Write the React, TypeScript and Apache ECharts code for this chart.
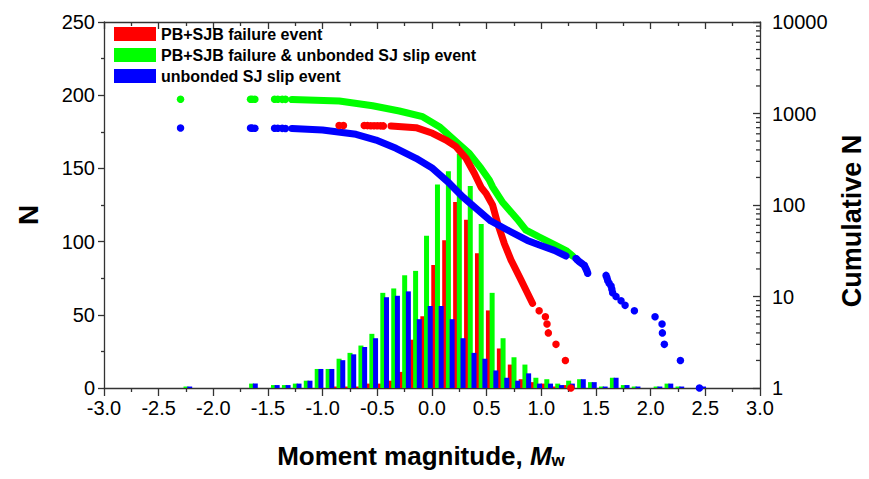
import React, { useEffect, useRef } from "react";
import * as echarts from "echarts";

// ---------- data ----------
const binCenters = [
  -2.25, -1.65, -1.45, -1.35, -1.25, -1.15, -1.05, -0.95, -0.85, -0.75,
  -0.65, -0.55, -0.45, -0.35, -0.25, -0.15, -0.05, 0.05, 0.15, 0.25,
  0.35, 0.45, 0.55, 0.65, 0.75, 0.85, 0.95, 1.05, 1.15, 1.25,
  1.35, 1.45, 1.55, 1.65, 1.75, 1.85, 2.05, 2.15, 2.25, 2.45,
];
const redCounts = [
  0, 0, 0, 0, 0, 0, 0, 0, 1, 1,
  1, 3, 3, 5, 11, 33, 49, 84, 101, 127,
  115, 92, 53, 27, 16, 6, 4, 3, 1, 2,
  0, 0, 0, 0, 0, 0, 0, 0, 0, 0,
];
const greenCounts = [
  1, 3, 2, 2, 3, 5, 13, 13, 20, 24,
  29, 37, 65, 68, 77, 80, 104, 139, 148, 160,
  138, 112, 65, 34, 21, 16, 7, 6, 3, 5,
  6, 4, 1, 7, 2, 1, 1, 3, 1, 1,
];
const blueCounts = [
  1, 3, 2, 2, 3, 5, 13, 13, 19, 23,
  28, 34, 62, 63, 66, 47, 56, 56, 47, 34,
  24, 20, 12, 7, 5, 10, 3, 3, 2, 3,
  6, 4, 1, 7, 2, 1, 1, 3, 1, 1,
];

// cumulative number (M, N >= M)
const greenCumDots = [
  [-2.3, 1434], [-1.66, 1433], [-1.645, 1432], [-1.62, 1431],
  [-1.44, 1430], [-1.41, 1429], [-1.37, 1428], [-1.34, 1427],
];
const greenCumBand = [
  [-1.28, 1420], [-0.848, 1371], [-0.543, 1217], [-0.299, 1065], [-0.086, 923],
  [0.067, 717], [0.22, 492], [0.341, 367], [0.448, 252], [0.524, 188],
  [0.554, 158], [0.643, 108], [0.78, 70], [0.86, 53], [0.982, 44.7],
  [1.119, 37], [1.226, 31.8], [1.286, 27.7],
];
const redCumDots = [
  [-0.85, 740], [-0.81, 739], [-0.62, 738], [-0.59, 737], [-0.56, 736],
  [-0.53, 735], [-0.5, 734], [-0.47, 733], [-0.445, 732],
  [0.98, 7], [1.037, 6], [1.052, 5], [1.064, 4], [1.134, 3], [1.22, 2], [1.27, 1],
];
const redCumBand = [
  [-0.375, 731], [-0.146, 700], [0.005, 608], [0.128, 513], [0.22, 434],
  [0.311, 324], [0.387, 222], [0.45, 155], [0.494, 134], [0.554, 100],
  [0.6, 63], [0.661, 38], [0.723, 25], [0.799, 16.5], [0.875, 10.8], [0.92, 8.4],
];
const blueCumDots = [
  [-2.3, 694], [-1.66, 693], [-1.645, 692], [-1.62, 691],
  [-1.44, 690], [-1.41, 689], [-1.37, 688], [-1.34, 687],
  [1.317, 26], [1.33, 25], [1.348, 24], [1.37, 23], [1.393, 22], [1.4, 21],
  [1.409, 20], [1.417, 19], [1.424, 18],
  [1.592, 17], [1.6, 16], [1.607, 15], [1.62, 14], [1.638, 13], [1.645, 12],
  [1.652, 11], [1.683, 10], [1.729, 9], [1.766, 8], [1.851, 7],
  [2.04, 6], [2.104, 5], [2.107, 4], [2.125, 3], [2.272, 2], [2.446, 1],
];
const blueCumBand = [
  [-1.28, 686], [-1.001, 660], [-0.695, 593], [-0.512, 513], [-0.329, 417],
  [-0.146, 324], [0.005, 252], [0.158, 173], [0.28, 123], [0.403, 92],
  [0.538, 66.8], [0.707, 52], [0.872, 41], [0.982, 36.5], [1.119, 31.9], [1.226, 27.7],
];

const xTicks = { min: -3, max: 3, interval: 0.5 };
const leftTicks = { min: 0, max: 250, interval: 50 };
const rightRange = { min: 1, max: 10000 };
const rightMinorTicks = [
  2, 3, 4, 5, 6, 7, 8, 9,
  20, 30, 40, 50, 60, 70, 80, 90,
  200, 300, 400, 500, 600, 700, 800, 900,
  2000, 3000, 4000, 5000, 6000, 7000, 8000, 9000,
];

const NAME_RED = "PB+SJB failure event";
const NAME_GREEN = "PB+SJB failure & unbonded SJ slip event";
const NAME_BLUE = "unbonded SJ slip event";

const RED = "#ff0000";
const GREEN = "#00ff00";
const BLUE = "#0000ff";
const FONT = "'Liberation Sans', Arial, Helvetica, sans-serif";
const AXIS_COLOR = "#333333";

export default function App() {
  const ref = useRef<HTMLDivElement>(null);

  useEffect(() => {
    if (!ref.current) return;
    const chart = echarts.init(ref.current, undefined, { renderer: "svg" });
    const lineStyle = { color: AXIS_COLOR, width: 1.3 };
    const titleStyle = { fontSize: 26, fontWeight: "bold" as const, color: "#000", fontFamily: FONT };

    const barSeries = (name: string, counts: number[], color: string) => ({
      type: "bar",
      name,
      xAxisIndex: 0,
      yAxisIndex: 0,
      data: binCenters.map((c, i) => [c, counts[i]]),
      barWidth: 5,
      barGap: "-26%",
      itemStyle: { color },
      z: 2,
    });
    const bandSeries = (name: string, data: number[][], color: string) => ({
      type: "line",
      name,
      xAxisIndex: 0,
      yAxisIndex: 1,
      data,
      symbol: "none",
      showSymbol: false,
      clip: false,
      lineStyle: { width: 7, color, cap: "round", join: "round" },
      z: 3,
    });
    const dotSeries = (name: string, data: number[][], color: string) => ({
      type: "scatter",
      name,
      xAxisIndex: 0,
      yAxisIndex: 1,
      data,
      symbolSize: 7.5,
      clip: false,
      itemStyle: { color, opacity: 1 },
      z: 3,
    });

    chart.setOption({
      animation: false,
      textStyle: { fontFamily: FONT },
      grid: {
        left: 104,
        right: 109,
        top: 22,
        bottom: 91,
        containLabel: false,
        outerBoundsMode: "none",
      },
      legend: {
        left: 109,
        top: 21,
        orient: "vertical",
        icon: "rect",
        itemWidth: 42,
        itemHeight: 14,
        itemGap: 5,
        itemTextGap: 6,
        selectedMode: false,
        data: [NAME_RED, NAME_GREEN, NAME_BLUE],
        textStyle: { fontSize: 16, fontWeight: "bold", color: "#000", fontFamily: FONT },
      },
      xAxis: [
        {
          type: "value",
          position: "bottom",
          ...xTicks,
          axisLine: { show: true, onZero: false, lineStyle },
          axisTick: { show: true, length: 8, lineStyle },
          minorTick: { show: true, splitNumber: 2, length: 4, lineStyle },
          splitLine: { show: false },
          axisLabel: {
            fontSize: 20,
            color: "#000",
            margin: 10,
            fontFamily: FONT,
            formatter: (v: number) => v.toFixed(1),
          },
          name: "{a|Moment magnitude, }{i|M}{s|w}",
          nameLocation: "middle",
          nameGap: 55,
          nameTextStyle: {
            ...titleStyle,
            padding: [0, 22, 0, 0],
            rich: {
              a: { ...titleStyle, lineHeight: 26, verticalAlign: "top" },
              i: { ...titleStyle, fontStyle: "italic", lineHeight: 26, verticalAlign: "top" },
              s: {
                fontSize: 17,
                fontWeight: "bold",
                color: "#000",
                fontFamily: FONT,
                lineHeight: 17,
                verticalAlign: "bottom",
                padding: [16, 0, 0, 0],
              },
            },
          },
        },
        {
          type: "value",
          position: "top",
          ...xTicks,
          axisLine: { show: true, onZero: false, lineStyle },
          axisTick: { show: true, inside: true, length: 7, lineStyle },
          minorTick: { show: true, splitNumber: 2, length: 4, lineStyle },
          splitLine: { show: false },
          axisLabel: { show: false },
        },
      ],
      yAxis: [
        {
          type: "value",
          position: "left",
          ...leftTicks,
          axisLine: { show: true, onZero: false, lineStyle },
          axisTick: { show: true, length: 6, lineStyle },
          minorTick: { show: true, splitNumber: 2, length: 3, lineStyle },
          splitLine: { show: false },
          axisLabel: { fontSize: 20, color: "#000", margin: 9, fontFamily: FONT },
          name: "N",
          nameLocation: "middle",
          nameGap: 62,
          nameRotate: 90,
          nameTextStyle: { ...titleStyle, fontSize: 28, padding: [0, 20, 0, 0] },
        },
        {
          type: "log",
          logBase: 10,
          position: "right",
          ...rightRange,
          axisLine: { show: true, onZero: false, lineStyle },
          axisTick: { show: true, inside: true, length: 7, lineStyle },
          minorTick: { show: false },
          splitLine: { show: false },
          axisLabel: {
            fontSize: 20,
            color: "#000",
            margin: 12,
            fontFamily: FONT,
            formatter: (v: number) => String(Math.round(v)),
          },
          name: "Cumulative N",
          nameLocation: "middle",
          nameGap: 63,
          nameRotate: 90,
          nameTextStyle: { ...titleStyle, fontSize: 27, padding: [0, 32, 0, 0] },
        },
      ],
      series: [
        barSeries(NAME_RED, redCounts, RED),
        barSeries(NAME_GREEN, greenCounts, GREEN),
        barSeries(NAME_BLUE, blueCounts, BLUE),
        bandSeries("cumGreenBand", greenCumBand, GREEN),
        dotSeries("cumGreenDots", greenCumDots, GREEN),
        bandSeries("cumRedBand", redCumBand, RED),
        dotSeries("cumRedDots", redCumDots, RED),
        bandSeries("cumBlueBand", blueCumBand, BLUE),
        dotSeries("cumBlueDots", blueCumDots, BLUE),
        {
          type: "custom",
          name: "rightMinorTicks",
          xAxisIndex: 0,
          yAxisIndex: 1,
          silent: true,
          z: 5,
          data: rightMinorTicks.map((v) => [xTicks.max, v]),
          renderItem: (_params: any, api: any) => {
            const p = api.coord([api.value(0), api.value(1)]);
            return {
              type: "line",
              shape: { x1: p[0] - 4, y1: p[1], x2: p[0], y2: p[1] },
              style: { stroke: AXIS_COLOR, lineWidth: 1.3 },
            };
          },
        },
      ],
    });
    return () => chart.dispose();
  }, []);

  return (
    <div
      ref={ref}
      style={{ position: "fixed", left: 0, top: 0, width: 869, height: 479, background: "#fff" }}
    />
  );
}
